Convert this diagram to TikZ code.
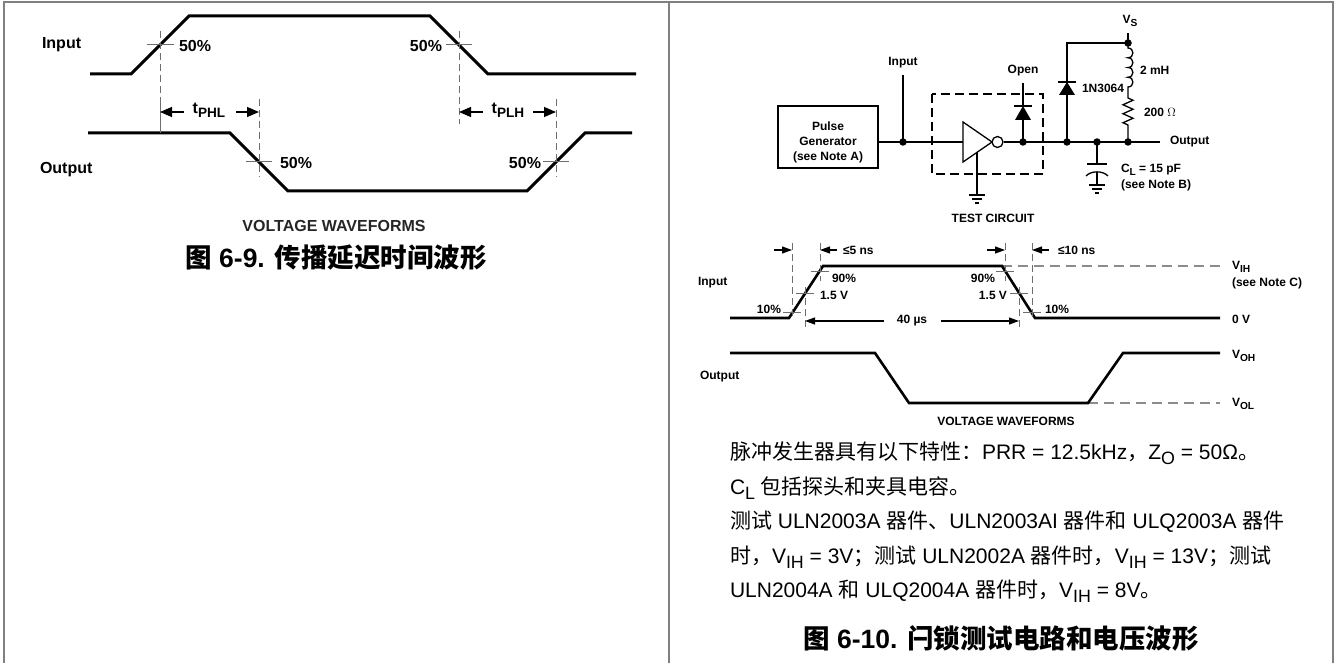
\documentclass[tikz,border=0pt]{standalone}
\usepackage{fontspec}
\usepackage{graphicx}
\setmainfont{Liberation Sans}
\newfontfamily\cjk{Noto Sans CJK SC}
\usetikzlibrary{arrows.meta,calc}
\definecolor{framegray}{RGB}{128,128,128}
\definecolor{tickgray}{RGB}{110,110,110}
\definecolor{refgray}{RGB}{140,140,140}
\newcommand\sbs[1]{\raisebox{-0.25em}{\scalebox{0.85}{#1}}}
\newcommand\C[1]{{\cjk #1}}
\newcommand\lfnt{\fontsize{16}{19}\selectfont\bfseries}
\newcommand\rfnt{\fontsize{12}{15}\selectfont\bfseries}
\newcommand\bodyfnt{\fontsize{21}{24}\selectfont}
\newcommand\titlefnt{\fontsize{26.5}{30}\selectfont\bfseries}
\begin{document}
\begin{tikzpicture}[x=1pt,y=-1pt,
  lbl/.style={inner sep=0pt, outer sep=0pt},
  L/.style={lbl, font=\lfnt},
  R/.style={lbl, font=\rfnt},
  frame/.style={draw=framegray, line width=2pt},
  wave/.style={line width=3pt, line join=miter},
  wavetwo/.style={line width=2.6pt, line join=miter},
  tickl/.style={draw=tickgray, line width=1pt},
  dashl/.style={draw=tickgray, line width=1pt, dash pattern=on 7pt off 4pt},
  dimL/.style={line width=1.2pt, -{Triangle[length=12pt,width=10pt]}},
  dimR/.style={line width=1.1pt, -{Triangle[length=10pt,width=7pt]}},
  wire/.style={line width=1.3pt},
  dotn/.style={circle, fill, inner sep=0pt, minimum size=7.5pt},
  refl/.style={draw=refgray, line width=1.4pt, dash pattern=on 10pt off 6pt},
  diodefill/.style={fill=black},
]
\useasboundingbox (0,0) rectangle (1335,663);
% ---------- frame ----------
\draw[frame] (4,663) -- (4,2) -- (1333,2) -- (1333,663);
\draw[frame] (669,2) -- (669,663);

% ================= LEFT PANEL =================
\node[L, anchor=west] (linlbl) at (42,45) {Input};
\node[L, anchor=west] (loutlbl) at (40,170) {Output};
% input waveform
\draw[wave] (90,74) -- (131,74) -- (189,16) -- (430,16) -- (488,74) -- (636,74);
% output waveform
\draw[wave] (88,133) -- (230,133) -- (288,191) -- (527,191) -- (585,133) -- (632,133);
% ticks at 50%
\draw[tickl] (147,45) -- (174,45);
\draw[dashl] (160,31) -- (160,104);
\draw[tickl] (160,104) -- (160,133);
\draw[tickl] (446,45) -- (472,45);
\draw[dashl] (459,31) -- (459,124);
\draw[tickl] (246,162) -- (272,162);
\draw[dashl] (259,99) -- (259,177);
\draw[tickl] (543,162) -- (569,162);
\draw[dashl] (556,99) -- (556,177);
% labels 50%
\node[L, anchor=west] (l50a) at (179,46) {50\%};
\node[L, anchor=east] (l50b) at (442,46) {50\%};
\node[L, anchor=west] (l50c) at (280,163) {50\%};
\node[L, anchor=east] (l50d) at (541,163) {50\%};
% tPHL / tPLH
\coordinate (phlA) at (160,112);
\coordinate (phlB) at (259,112);
\coordinate (plhA) at (459,112);
\coordinate (plhB) at (556,112);
\draw[dimL] (184,112) -- (phlA);
\draw[dimL] (236,112) -- (phlB);
\node[L] (tphl) at (209,110) {t\sbs{PHL}};
\draw[dimL] (483,112) -- (plhA);
\draw[dimL] (533,112) -- (plhB);
\node[L] (tplh) at (508,110) {t\sbs{PLH}};
\node[lbl, font=\fontsize{16}{18}\selectfont\bfseries, text=black!85] (lvw) at (334,226) {VOLTAGE WAVEFORMS};
\node[lbl, font=\titlefnt] (ltitle) at (336,258) {\C{图} 6-9. \C{传播延迟时间波形}};

% ================= RIGHT PANEL: TEST CIRCUIT =================
\node[draw, line width=2pt, minimum width=100pt, minimum height=62pt, inner sep=0pt] (gen) at (828,137) {};
\node[R, align=center] (gentxt) at (828,142) {Pulse\\Generator\\(see Note A)};
\coordinate (jin) at (903,142);
\coordinate (intop) at (903,75);
\coordinate (invl) at (963,142);
\coordinate (jo) at (1023,142);
\coordinate (jd) at (1067,142);
\coordinate (jc) at (1097,142);
\coordinate (jr) at (1128,142);
\coordinate (vs) at (1128,43);
\coordinate (vstop) at (1128,33);
\coordinate (dtop) at (1067,43);
\coordinate (outend) at (1160,142);
% dashed device box
\draw[line width=2.4pt, dash pattern=on 9pt off 5pt] (932,94) rectangle (1043,174);
% main wire
\draw[wire] (gen.east |- jin) -- (jin) -- (invl);
\draw[wire] (jin) -- (intop);
\node[R] (inlbl) at (903,63) {Input};
% inverter
\draw[wire] (963,122) -- (992,142) -- (963,162) -- cycle;
\node[draw, circle, line width=1.3pt, minimum size=11pt, inner sep=0pt] (bub) at (997.5,142) {};
\draw[wire] (bub.east) -- (jo) -- (jd) -- (jc) -- (jr) -- (outend);
\node[R, anchor=west] (outlbl) at (1170,142) {Output};
% inverter ground
\coordinate (ig) at (977,195);
\draw[wire] (977,152.3) -- (ig);
\draw[wire] ($(ig)+(-8,0)$) -- ($(ig)+(8,0)$);
\draw[wire] ($(ig)+(-5,4)$) -- ($(ig)+(5,4)$);
\draw[wire] ($(ig)+(-2,8)$) -- ($(ig)+(2,8)$);
% open diode
\coordinate (odtop) at (1023,83);
\draw[wire] (jo) -- (1023,120);
\fill[diodefill] (1015,120) -- (1031,120) -- (1023,106) -- cycle;
\draw[wire] (1014,106) -- (1032,106);
\draw[wire] (1023,106) -- (odtop);
\node[R] (openlbl) at (1023,71) {Open};
% 1N3064 diode
\draw[wire] (jd) -- (dtop) -- (vs);
\fill[diodefill] (1059,95) -- (1075,95) -- (1067,82) -- cycle;
\draw[wire] (1058,82) -- (1076,82);
\node[R, anchor=west] (dlbl) at (1082,88) {1N3064};
% VS
\draw[wire] (vs) -- (vstop);
\node[R] (vslbl) at (1130,21) {V\sbs{S}};
% inductor and resistor
\draw[wire] (vs) -- (1128,48)
  .. controls (1134.5,48) and (1134.5,57.75) .. (1128,57.75)
  .. controls (1134.5,57.75) and (1134.5,67.5) .. (1128,67.5)
  .. controls (1134.5,67.5) and (1134.5,77.25) .. (1128,77.25)
  .. controls (1134.5,77.25) and (1134.5,87) .. (1128,87)
  -- (1128,98)
  -- (1133,100.25) -- (1123,104.75) -- (1133,109.25) -- (1123,113.75)
  -- (1133,118.25) -- (1123,122.75) -- (1128,125) -- (jr);
\node[R, anchor=west] (lmh) at (1140,70) {2 mH};
\node[R, anchor=west] (rohm) at (1144,112) {200 \(\Omega\)};
% capacitor
\draw[wire] (jc) -- (1097,164);
\draw[wire] (1087,164) -- (1107,164);
\draw[wire] (1086,176) .. controls (1091,170.5) and (1103,170.5) .. (1108,176);
\coordinate (cg) at (1097,185);
\draw[wire] (1097,172) -- (cg);
\draw[wire] ($(cg)+(-8,0)$) -- ($(cg)+(8,0)$);
\draw[wire] ($(cg)+(-5,4)$) -- ($(cg)+(5,4)$);
\draw[wire] ($(cg)+(-2,8)$) -- ($(cg)+(2,8)$);
\node[R, anchor=west] (cllbl) at (1121,170) {C\sbs{L} = 15 pF};
\node[R, anchor=west] (notebl) at (1121,185) {(see Note B)};
% junction dots
\foreach \p/\n in {jin/a,jo/b,jd/c,jc/d,jr/e,vs/f}{\node[dotn] (dot\n) at (\p) {};}
\node[R] (tc) at (993,218) {TEST CIRCUIT};

% ================= RIGHT PANEL: WAVEFORMS =================
\node[R, anchor=west] (rin) at (698,283) {Input};
\node[R, anchor=west] (rout) at (700,377) {Output};
\draw[refl] (1002,266) -- (1220,266);
\draw[refl] (1088,403) -- (1220,403);
\draw[wavetwo] (730,318) -- (789,318) -- (823,266) -- (1002,266) -- (1035,318) -- (1220,318);
\draw[wavetwo] (730,353) -- (875,353) -- (909,403) -- (1088,403) -- (1123,353) -- (1220,353);
% ticks
\draw[tickl] (783,312.5) -- (801,312.5);
\draw[tickl] (796,293) -- (814,293);
\draw[tickl] (811,271) -- (829,271);
\draw[tickl] (996,271) -- (1014,271);
\draw[tickl] (1010,293) -- (1028,293);
\draw[tickl] (1023,312.5) -- (1041,312.5);
% dashed verticals
\draw[dashl] (792,243) -- (792,318);
\draw[dashl] (820,243) -- (820,281);
\draw[dashl] (805,287) -- (805,328);
\draw[dashl] (1005,243) -- (1005,281);
\draw[dashl] (1019,287) -- (1019,328);
\draw[dashl] (1032,243) -- (1032,318);
% timing arrows
\coordinate (ta) at (792,250);
\coordinate (tb) at (820,250);
\coordinate (tc2) at (1005,250);
\coordinate (td) at (1032,250);
\coordinate (te) at (805,321);
\coordinate (tf) at (1019,321);
\draw[dimR] (774,250) -- (ta);
\draw[dimR] (837,250) -- (tb);
\node[R, anchor=west] (t5) at (843,250) {≤5 ns};
\draw[dimR] (987,250) -- (tc2);
\draw[dimR] (1049,250) -- (td);
\node[R, anchor=west] (t10) at (1058,250) {≤10 ns};
\draw[dimR] (884,321) -- (te);
\draw[dimR] (941,321) -- (tf);
\node[R] (t40) at (912,321) {40 µs};
% level labels
\node[R, anchor=east] (p10a) at (781,309) {10\%};
\node[R, anchor=west] (p90a) at (832,278) {90\%};
\node[R, anchor=west] (p15a) at (820,295) {1.5 V};
\node[R, anchor=east] (p90b) at (995,278) {90\%};
\node[R, anchor=east] (p15b) at (1007,295) {1.5 V};
\node[R, anchor=west] (p10b) at (1045,309) {10\%};
\node[R, anchor=west] (vih) at (1232,267) {V\sbs{IH}};
\node[R, anchor=west] (notec) at (1232,283) {(see Note C)};
\node[R, anchor=west] (zerov) at (1232,319) {0 V};
\node[R, anchor=west] (voh) at (1232,356) {V\sbs{OH}};
\node[R, anchor=west] (vol) at (1232,404) {V\sbs{OL}};
\node[R] (rvw) at (1006,421) {VOLTAGE WAVEFORMS};

% ================= RIGHT PANEL: NOTES =================
\node[lbl, font=\bodyfnt, anchor=base west] (n1) at (730,459) {\C{脉冲发生器具有以下特性：}PRR = 12.5kHz\C{，}Z\sbs{O} = 50Ω\C{。}};
\node[lbl, font=\bodyfnt, anchor=base west] (n2) at (730,494) {C\sbs{L} \C{包括探头和夹具电容。}};
\node[lbl, font=\bodyfnt, anchor=base west] (n3) at (730,528.5) {\C{测试} ULN2003A \C{器件、}ULN2003AI \C{器件和} ULQ2003A \C{器件}};
\node[lbl, font=\bodyfnt, anchor=base west] (n4) at (730,563) {\C{时，}V\sbs{IH} = 3V\C{；测试} ULN2002A \C{器件时，}V\sbs{IH} = 13V\C{；测试}};
\node[lbl, font=\bodyfnt, anchor=base west] (n5) at (730,597) {ULN2004A \C{和} ULQ2004A \C{器件时，}V\sbs{IH} = 8V\C{。}};
\node[lbl, font=\titlefnt] (rtitle) at (1001,638) {\C{图} 6-10. \C{闩锁测试电路和电压波形}};
\end{tikzpicture}
\end{document}
